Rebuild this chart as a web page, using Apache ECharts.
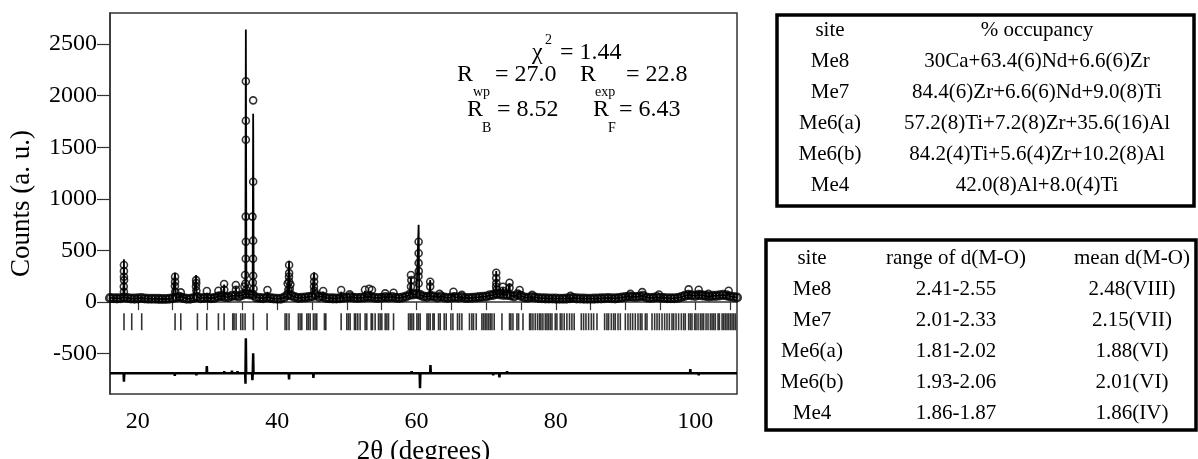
<!DOCTYPE html>
<html><head><meta charset="utf-8">
<script src="https://cdn.jsdelivr.net/npm/echarts@6/dist/echarts.min.js"></script>
<style>html,body{margin:0;padding:0;background:#fff}#c{width:1198px;height:459px}</style>
</head><body><div id="c"></div>
<script>
// ---------- data ----------
const xTickValues = [20,25,30,35,40,45,50,55,60,65,70,75,80,85,90,95,100,105];
const xLabelValues = [20,40,60,80,100];
const yTickValues = [-500,0,500,1000,1500,2000,2500];

// observed background counts every 0.5 deg, starting at 16 deg
const bgStart = 16, bgStep = 0.5;
const bgCounts = [
 40,38, 36,38, 45,40, 35,34, 36,40, 35,33, 32,32, 31,30, 30,32, 38,45,
 50,40, 33,32, 40,50, 38,40, 42,38, 40,55, 58,50, 48,60, 62,55, 70,80,
 75,70, 45,40, 38,45, 40,35, 33,32, 45,70, 65,50, 40,42, 45,50, 55,70,
 50,55, 40,38, 36,35, 38,42, 45,48, 42,40, 42,45, 50,48, 42,40, 42,48,
 45,50, 42,40, 45,55, 70,75, 80,70, 55,50, 60,55, 45,55, 45,40, 45,48,
 45,50, 40,40, 42,45, 48,52, 55,65, 70,80, 75,70, 70,65, 55,75, 60,45,
 42,50, 45,40, 38,36, 35,35, 34,33, 33,34, 38,40, 36,35, 34,33, 33,34,
 35,36, 38,40, 38,36, 40,45, 50,55, 52,50, 55,60, 45,40, 42,48, 42,40,
 38,37, 38,40, 50,60, 70,65, 60,70, 65,60, 55,60, 60,65, 70,65, 55,50,
 45
];

// observed points standing above the background (2theta, counts)
const peakObs = [
 [18.0,359],[18.0,300],[18.0,246],[18.02,213],[17.98,150],[18.0,100],
 [25.34,246],[25.34,197],[25.32,155],[25.36,100],[26.16,94],
 [28.36,213],[28.38,185],[28.34,150],[28.4,110],[29.9,107],[31.56,110],
 [32.38,175],[32.4,120],[34.06,165],[34.08,120],
 [35.5,2139],[35.5,1757],[35.5,1573],[35.48,828],[35.5,585],[35.48,420],[35.39,262],[35.45,180],[35.55,120],[35.3,150],
 [36.55,1954],[36.55,1165],[36.45,828],[36.55,595],[36.53,420],[36.55,255],[36.5,190],[36.6,130],
 [38.6,117],
 [41.71,359],[41.71,281],[41.69,246],[41.7,200],[41.5,180],[41.9,170],[41.6,120],[41.8,130],
 [45.3,246],[45.3,197],[45.28,150],[45.32,110],[46.6,107],
 [49.18,117],[50.4,75],[52.6,120],[53.2,130],[53.6,117],[55.5,85],[56.7,90],
 [59.2,262],[59.25,213],[59.2,150],
 [60.3,585],[60.3,473],[60.3,378],[60.32,300],[60.28,250],[60.3,180],
 [61.96,197],[61.96,150],[63.3,80],[65.3,100],[66.5,70],
 [71.44,285],[71.44,233],[71.46,184],[71.42,150],[71.5,120],
 [72.4,149],[72.4,110],[73.35,188],[73.35,140],[74.8,117],[76.6,70],[82.1,60],
 [90.7,80],[92.4,97],[94.8,74],[99.06,123],[100.5,120],[101.9,80],[104.8,110]
];

// calculated profile: peak tops (2theta, counts)
const calcPeaks = [
 [18.0,415],[25.34,285],[26.16,90],[28.36,262],[29.9,90],[31.56,100],[32.38,170],
 [34.06,150],[35.5,2640],[36.55,1825],[38.6,100],[41.71,401],[45.3,288],[46.6,100],
 [49.2,100],[52.6,110],[53.4,110],[59.2,240],[60.3,750],[61.96,213],[65.3,90],
 [71.44,300],[72.4,140],[73.35,180],[74.8,110],[99.06,110],[100.5,110],[104.8,100]
];

// difference curve: offset and excursions (2theta, obs-calc)
const diffOffset = -690;
const diffSpikes = [
 [17.0,15],[18.0,-80],[19.5,-15],[21.0,12],[22.2,-10],[23.5,-12],[24.5,10],[25.3,-25],[26.5,12],[27.4,-10],[28.4,-20],
 [29.9,70],[31.0,-15],[32.4,20],[33.5,25],[34.3,20],[35.45,-100],[35.5,340],
 [36.44,-65],[36.55,195],[38.0,-15],[39.0,10],[40.0,10],[41.7,-60],[43.0,-15],[44.0,10],[45.2,-45],
 [46.2,10],[47.0,12],[48.5,-15],[49.3,10],[50.0,12],[51.0,-10],[52.0,-15],[53.5,15],[54.3,-10],[55.0,-12],[56.0,10],[57.0,12],[58.5,-15],
 [59.3,20],[60.5,-145],[62.0,80],[63.0,-10],[64.0,-12],[65.0,10],[66.0,10],[68.0,-10],[69.5,10],[70.5,15],[71.0,-20],[71.9,-40],
 [73.0,20],[73.7,-15],[74.5,-15],[77.0,10],[80.0,-8],[84.0,8],[87.0,-8],[90.0,-10],[91.5,8],[93.0,10],[96.0,-8],
 [99.3,40],[100.0,15],[100.5,-20],[101.5,10],[102.0,15],[103.0,-10],[103.5,-15],[104.5,12],[105.0,15]
];

// Bragg reflection positions (2theta)
const reflections = [
 18.01,19.12,20.55,25.34,26.16,28.55,29.89,31.56,32.38,33.62,33.81,34.10,34.77,35.06,35.39,36.58,38.55,
 41.13,41.37,41.70,43.04,43.29,43.53,44.25,44.48,44.73,45.20,45.44,45.68,46.78,46.98,49.18,49.99,50.23,
 50.47,51.09,51.28,51.57,51.90,52.62,52.86,53.49,53.68,54.06,54.54,54.78,55.02,55.50,55.74,55.98,56.70,
 58.85,59.09,59.33,59.57,60.05,60.28,60.52,61.50,61.72,61.96,62.35,62.54,63.16,63.40,63.97,64.26,64.93,
 65.22,65.88,66.17,66.51,67.60,67.94,68.18,68.57,69.38,69.62,69.86,70.10,70.34,70.58,70.82,71.15,72.26,
 73.35,73.55,73.84,74.41,74.65,75.28,76.23,76.42,76.71,77.04,77.37,77.66,77.86,78.14,78.48,78.72,78.95,
 79.20,79.44,79.91,80.15,80.63,80.87,81.20,81.58,81.96,82.30,82.63,83.65,83.98,84.32,84.70,85.09,85.42,
 85.90,87.00,87.33,87.57,87.96,88.29,88.53,88.92,89.25,89.97,90.35,90.69,91.02,91.40,91.79,92.12,92.36,
 92.84,93.08,93.80,94.18,94.52,94.85,95.24,95.61,95.95,96.29,96.67,96.91,97.25,97.62,98.01,98.34,98.58,
 99.06,99.30,99.54,99.92,100.12,100.41,100.74,100.98,101.21,101.56,101.84,102.18,102.42,102.65,102.89,
 103.28,103.47,103.86,104.09,104.33,104.57,104.80,105.05,105.29,105.53,105.77
];
const reflectionLevel = -190;

// fit statistics
const chi2 = '1.44', Rwp = '27.0', Rexp = '22.8', RB = '8.52', RF = '6.43';

// tables
const occHeader = ['site', '% occupancy'];
const occSites = ['Me8','Me7','Me6(a)','Me6(b)','Me4'];
const occValues = ['30Ca+63.4(6)Nd+6.6(6)Zr','84.4(6)Zr+6.6(6)Nd+9.0(8)Ti','57.2(8)Ti+7.2(8)Zr+35.6(16)Al','84.2(4)Ti+5.6(4)Zr+10.2(8)Al','42.0(8)Al+8.0(4)Ti'];
const distHeader = ['site', 'range of d(M-O)', 'mean d(M-O)'];
const distSites = ['Me8','Me7','Me6(a)','Me6(b)','Me4'];
const distRanges = ['2.41-2.55','2.01-2.33','1.81-2.02','1.93-2.06','1.86-1.87'];
const distMeans = ['2.48(VIII)','2.15(VII)','1.88(VI)','2.01(VI)','1.86(IV)'];

// ---------- build ----------
const FONT = '"Liberation Serif", "Times New Roman", serif';
const bgData = bgCounts.map((v, i) => [bgStart + i * bgStep, v]);
function bgAt(t) { return bgCounts[Math.max(0, Math.min(bgCounts.length - 1, Math.round((t - bgStart) / bgStep)))]; }
let calcData = bgData.map(p => [p[0], p[1]]);
calcPeaks.forEach(([t, h]) => {
  calcData.push([t - 0.08, bgAt(t)], [t, h], [t + 0.08, bgAt(t)]);
});
calcData.sort((a, b) => a[0] - b[0]);
let diffData = [[16, diffOffset]];
diffSpikes.forEach(([t, v]) => {
  diffData.push([t - 0.05, diffOffset], [t, diffOffset + v], [t + 0.05, diffOffset]);
});
diffData.push([106, diffOffset]);
diffData.sort((a, b) => a[0] - b[0]);

const chart = echarts.init(document.getElementById('c'), null, {renderer: 'canvas'});

function txt(x, y, s, size, align) {
  return {type: 'text', x: x, y: y, silent: true,
    style: {text: s, fill: '#000', fontSize: size, fontFamily: FONT,
      align: align || 'center', verticalAlign: 'middle', textAlign: align || 'center', textVerticalAlign: 'middle'}};
}
const TS = 21, FS = 24, SS = 14;
const graphics = [];
// statistics annotation
graphics.push(txt(532, 53, 'χ', FS, 'left'), txt(545, 40, '2', SS, 'left'), txt(560, 53, '= ' + chi2, FS, 'left'));
graphics.push(txt(457, 75, 'R', FS, 'left'), txt(473, 92, 'wp', SS, 'left'), txt(495, 75, '= ' + Rwp, FS, 'left'));
graphics.push(txt(580, 75, 'R', FS, 'left'), txt(595, 92, 'exp', SS, 'left'), txt(626, 75, '= ' + Rexp, FS, 'left'));
graphics.push(txt(467, 110, 'R', FS, 'left'), txt(482, 128, 'B', SS, 'left'), txt(497, 110, '= ' + RB, FS, 'left'));
graphics.push(txt(593, 110, 'R', FS, 'left'), txt(608, 128, 'F', SS, 'left'), txt(619, 110, '= ' + RF, FS, 'left'));
// table 1
graphics.push({type: 'rect', silent: true, shape: {x: 777, y: 15, width: 417, height: 191},
  style: {fill: 'none', stroke: '#000', lineWidth: 3.5}});
const t1Rows = [30, 61, 92, 123, 154, 185];
graphics.push(txt(830, t1Rows[0], occHeader[0], TS), txt(1037, t1Rows[0], occHeader[1], TS));
occSites.forEach((s, i) => graphics.push(txt(830, t1Rows[i + 1], s, TS), txt(1037, t1Rows[i + 1], occValues[i], TS)));
// table 2
graphics.push({type: 'rect', silent: true, shape: {x: 766, y: 240, width: 430, height: 190},
  style: {fill: 'none', stroke: '#000', lineWidth: 3.5}});
const t2Rows = [258, 289, 320, 351, 382, 413];
graphics.push(txt(812, t2Rows[0], distHeader[0], TS), txt(956, t2Rows[0], distHeader[1], TS), txt(1132, t2Rows[0], distHeader[2], TS));
distSites.forEach((s, i) => graphics.push(txt(812, t2Rows[i + 1], s, TS), txt(956, t2Rows[i + 1], distRanges[i], TS), txt(1132, t2Rows[i + 1], distMeans[i], TS)));

const tickTxt = {color: '#000', fontSize: 24, fontFamily: FONT};
const nameTxt = {color: '#000', fontSize: 27, fontFamily: FONT};
chart.setOption({
  animation: false,
  backgroundColor: '#fff',
  grid: {left: 110, top: 13, right: 461, bottom: 65, containLabel: false, outerBoundsMode: 'none',
    show: true, borderColor: '#333', borderWidth: 1.5, backgroundColor: 'transparent'},
  xAxis: {
    type: 'value', min: 16, max: 106,
    name: '2θ (degrees)', nameLocation: 'middle', nameGap: 38, nameTextStyle: nameTxt,
    axisLine: {show: true, lineStyle: {color: '#333', width: 1.5}},
    axisTick: {show: true, length: 8, lineStyle: {color: '#333', width: 1.2}, customValues: xTickValues},
    axisLabel: {...tickTxt, margin: 16, customValues: xLabelValues, formatter: v => String(v)},
    splitLine: {show: false}
  },
  yAxis: {
    type: 'value', min: -890, max: 2800,
    name: 'Counts (a. u.)', nameLocation: 'middle', nameGap: 75, nameRotate: 90, nameTextStyle: nameTxt,
    axisLine: {show: true, lineStyle: {color: '#333', width: 1.5}},
    axisTick: {show: true, length: 13, lineStyle: {color: '#333', width: 1.2}, customValues: yTickValues},
    axisLabel: {...tickTxt, margin: 13, customValues: yTickValues, formatter: v => String(v)},
    splitLine: {show: false}
  },
  graphic: graphics,
  series: [
    {type: 'line', name: 'calc', data: calcData, showSymbol: false, symbol: 'none', lineStyle: {color: '#000', width: 1.8}, z: 3, silent: true},
    {type: 'scatter', name: 'obs-bg', data: bgData, symbol: 'circle', symbolSize: 7.5,
      itemStyle: {color: 'rgba(0,0,0,0)', borderColor: '#000', borderWidth: 2.6}, z: 4, silent: true},
    {type: 'scatter', name: 'obs-peaks', data: peakObs, symbol: 'circle', symbolSize: 7,
      itemStyle: {color: 'rgba(0,0,0,0)', borderColor: '#000', borderWidth: 1.6}, z: 4, silent: true},
    {type: 'line', name: 'diff', data: diffData, showSymbol: false, symbol: 'none', lineStyle: {color: '#000', width: 2.5}, z: 3, silent: true},
    {type: 'scatter', name: 'reflections', data: reflections.map(t => [t, reflectionLevel]), symbol: 'rect', symbolSize: [1.6, 17],
      itemStyle: {color: '#000'}, z: 3, silent: true}
  ]
});
</script>
</body></html>
